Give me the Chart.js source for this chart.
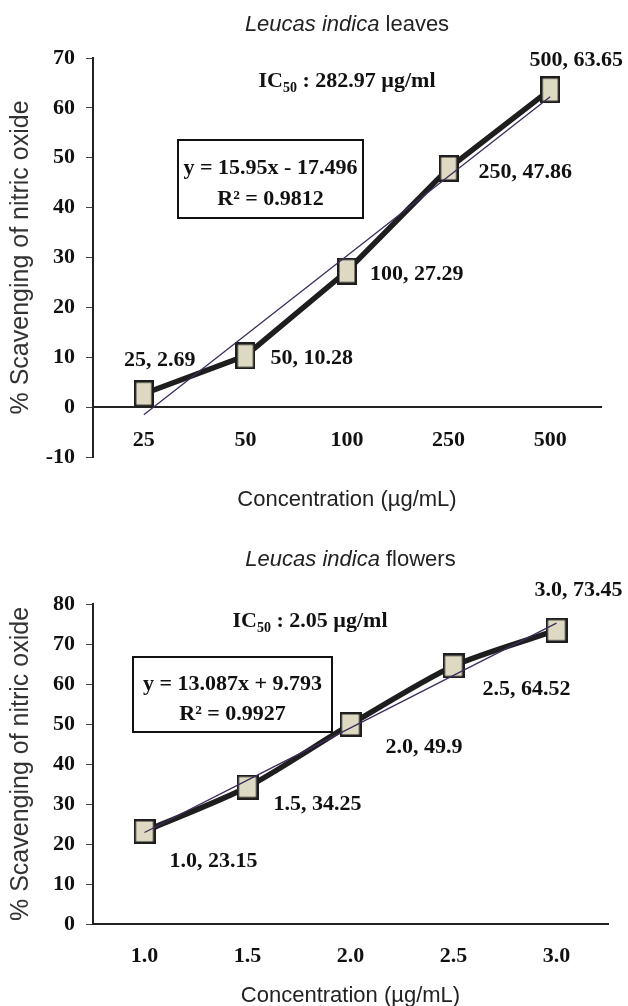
<!DOCTYPE html>
<html>
<head>
<meta charset="utf-8">
<script src="https://cdn.jsdelivr.net/npm/chart.js@4.4.1/dist/chart.umd.min.js"></script>
<style>
  html, body { margin: 0; padding: 0; background: #fff; width: 628px; height: 1006px; overflow: hidden; }
  .quadro { position: absolute; left: 0; width: 628px; }
</style>
</head>
<body>
<div class="quadro" style="top:0;height:520px"><canvas id="grafico-folhas"></canvas></div>
<div class="quadro" style="top:530px;height:480px"><canvas id="grafico-flores"></canvas></div>
<script>
// Dados
const folhasConc = ['25', '50', '100', '250', '500'];
const folhasPerc = [2.69, 10.28, 27.29, 47.86, 63.65];
const folhasTend = [-1.55, 14.40, 30.35, 46.30, 62.25];
const folhasTicks = [-10, 70];

const floresConc = ['1.0', '1.5', '2.0', '2.5', '3.0'];
const floresPerc = [23.15, 34.25, 49.9, 64.52, 73.45];
const floresTend = [22.88, 35.97, 49.05, 62.14, 75.23];
const floresTicks = [0, 80];

const SERIF = 'bold 22px "Liberation Serif", "Times New Roman", serif';
const SANS = '"Liberation Sans", Arial, sans-serif';

// Marcador quadrado (um pouco alto, como no original)
function marcador(w, h) {
  const c = document.createElement('canvas');
  c.width = w; c.height = h;
  const g = c.getContext('2d');
  g.fillStyle = '#ddd9c3';
  g.fillRect(0, 0, w, h);
  g.strokeStyle = '#1e1e1e';
  g.lineWidth = 2.5;
  g.strokeRect(1.25, 1.25, w - 2.5, h - 2.5);
  return c;
}

// Título, IC50, caixa da equação e rótulos dos pontos
const anotacoes = {
  id: 'anotacoes',
  afterDatasetsDraw(chart, args, o) {
    const ctx = chart.ctx;
    const area = chart.chartArea;
    const meta = chart.getDatasetMeta(1);
    const ds = chart.data.datasets[1];
    ctx.save();
    ctx.fillStyle = '#111';

    // rótulos "x, y"
    ctx.font = SERIF;
    ctx.textBaseline = 'middle';
    meta.data.forEach((pt, i) => {
      const [dx, dy, al] = o.rotulos[i];
      ctx.textAlign = al;
      ctx.fillText(chart.data.labels[i] + ', ' + ds.data[i], pt.x + dx, pt.y + dy);
    });

    // título
    const cx = (area.left + area.right) / 2;
    ctx.textBaseline = 'middle';
    ctx.textAlign = 'left';
    ctx.fillStyle = '#222';
    ctx.font = 'italic 22px ' + SANS;
    const w1 = ctx.measureText(o.tituloItalico).width;
    ctx.font = '22px ' + SANS;
    const w2 = ctx.measureText(' ' + o.tituloResto).width;
    let x0 = cx - (w1 + w2) / 2;
    ctx.font = 'italic 22px ' + SANS;
    ctx.fillText(o.tituloItalico, x0, o.tituloY);
    ctx.font = '22px ' + SANS;
    ctx.fillText(' ' + o.tituloResto, x0 + w1, o.tituloY);

    // IC50
    ctx.fillStyle = '#111';
    ctx.textBaseline = 'alphabetic';
    ctx.font = SERIF;
    const wa = ctx.measureText('IC').width;
    const wc = ctx.measureText(' : ' + o.ic50).width;
    ctx.font = 'bold 14px "Liberation Serif", serif';
    const wb = ctx.measureText('50').width;
    x0 = o.icX - (wa + wb + wc) / 2;
    ctx.font = SERIF;
    ctx.fillText('IC', x0, o.icY + 7);
    ctx.font = 'bold 14px "Liberation Serif", serif';
    ctx.fillText('50', x0 + wa, o.icY + 12);
    ctx.font = SERIF;
    ctx.fillText(' : ' + o.ic50, x0 + wa + wb, o.icY + 7);

    // caixa da equação
    const [bx, by, bw, bh] = o.caixa;
    ctx.fillStyle = '#fff';
    ctx.fillRect(bx, by, bw, bh);
    ctx.strokeStyle = '#111';
    ctx.lineWidth = 2;
    ctx.strokeRect(bx, by, bw, bh);
    ctx.fillStyle = '#111';
    ctx.textAlign = 'center';
    ctx.textBaseline = 'middle';
    ctx.font = SERIF;
    ctx.fillText(o.equacao, bx + bw / 2, by + bh * 0.36);
    ctx.fillText(o.r2, bx + bw / 2, by + bh * 0.76);
    ctx.restore();
  }
};

function montarGrafico(id, c) {
  return new Chart(document.getElementById(id), {
    type: 'line',
    data: {
      labels: c.conc,
      datasets: [
        {
          label: 'Linear',
          data: c.tend,
          borderColor: '#3d2c5c',
          borderWidth: 1.3,
          pointRadius: 0,
          tension: 0,
          order: 0
        },
        {
          label: '% Scavenging',
          data: c.perc,
          borderColor: '#1e1e1e',
          borderWidth: 5.5,
          tension: c.tensao,
          pointStyle: marcador(c.marc[0], c.marc[1]),
          pointRadius: 10,
          pointHoverRadius: 10,
          order: 1
        }
      ]
    },
    options: {
      responsive: true,
      maintainAspectRatio: false,
      animation: false,
      events: [],
      layout: { padding: { top: c.areaTopo, right: c.direita, left: 0, bottom: 0 } },
      plugins: {
        legend: { display: false },
        tooltip: { enabled: false },
        title: { display: false },
        subtitle: {
          display: true,
          position: 'bottom',
          fullSize: false,
          text: 'Concentration (µg/mL)',
          color: '#222',
          font: { family: SANS, size: 22, weight: 'normal' },
          padding: { top: c.subTopo, bottom: c.subBase }
        },
        anotacoes: c.notas
      },
      scales: {
        x: {
          type: 'category',
          offset: true,
          position: { y: 0 },
          grid: { display: false, drawTicks: false },
          border: { display: true, color: '#222', width: 2 },
          ticks: { color: '#111', padding: c.xPad, font: { family: '"Liberation Serif", serif', size: 22, weight: 'bold' }, maxRotation: 0, autoSkip: false }
        },
        y: {
          position: 'left',
          min: c.faixa[0],
          max: c.faixa[1],
          ticks: { stepSize: 10, color: '#111', padding: 11, font: { family: '"Liberation Serif", serif', size: 22, weight: 'bold' } },
          grid: { drawOnChartArea: false, tickLength: 7, color: '#444', lineWidth: 1 },
          border: { display: true, color: '#222', width: 2 },
          title: { display: true, text: '% Scavenging of nitric oxide', color: '#333', font: { family: SANS, size: 25, weight: 'normal' }, padding: { top: 6, bottom: 0 } },
          afterFit: s => { s.width = 93; }
        }
      }
    },
    plugins: [anotacoes]
  });
}

// Folhas
montarGrafico('grafico-folhas', {
  conc: folhasConc, perc: folhasPerc, tend: folhasTend, faixa: folhasTicks,
  tensao: 0, marc: [20, 27],
  areaTopo: 58, direita: 27, subTopo: 29.8, subBase: 6.8, xPad: 20,
  notas: {
    tituloItalico: 'Leucas indica', tituloResto: 'leaves', tituloY: 25,
    ic50: '282.97 µg/ml', icX: 347, icY: 80,
    caixa: [178, 140, 185, 78],
    equacao: 'y = 15.95x - 17.496', r2: 'R² = 0.9812',
    rotulos: [[16, -33, 'center'], [25, 2, 'left'], [23, 3, 'left'], [30, 4, 'left'], [26, -29, 'center']]
  }
});

// Flores
montarGrafico('grafico-flores', {
  conc: floresConc, perc: floresPerc, tend: floresTend, faixa: floresTicks,
  tensao: 0.25, marc: [22, 25],
  areaTopo: 74, direita: 20, subTopo: 58.8, subBase: 0.8, xPad: 19,
  notas: {
    tituloItalico: 'Leucas indica', tituloResto: 'flowers', tituloY: 30,
    ic50: '2.05 µg/ml', icX: 310, icY: 90,
    caixa: [133, 127, 199, 75],
    equacao: 'y = 13.087x + 9.793', r2: 'R² = 0.9927',
    rotulos: [[25, 30, 'left'], [26, 17, 'left'], [35, 23, 'left'], [29, 23, 'left'], [22, -40, 'center']]
  }
});
</script>
</body>
</html>
